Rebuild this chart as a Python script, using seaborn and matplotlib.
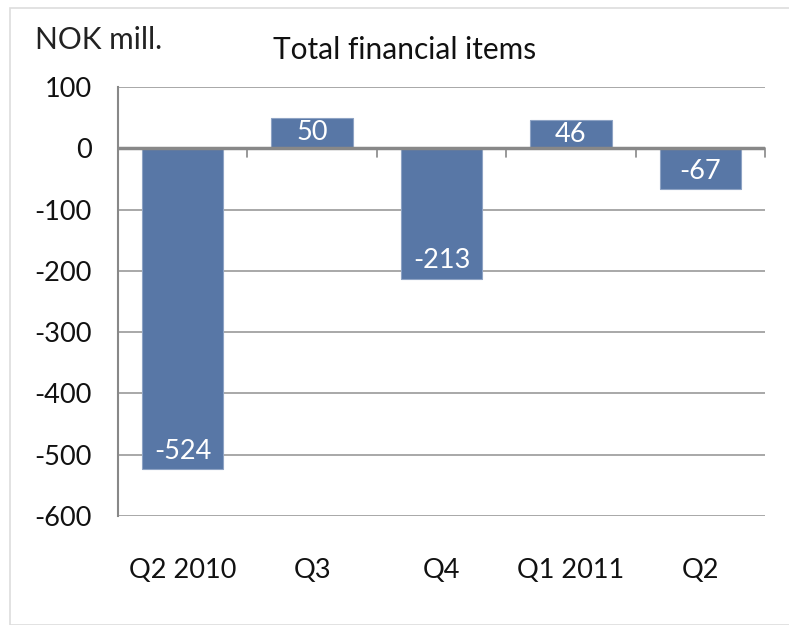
import matplotlib
matplotlib.use("Agg")
import matplotlib.pyplot as plt
import seaborn as sns
import pandas as pd
import numpy as np
from matplotlib.patches import Rectangle

categories = ["Q2 2010", "Q3", "Q4", "Q1 2011", "Q2"]
values = [-524, 50, -213, 46, -67]
yticks = [100, 0, -100, -200, -300, -400, -500, -600]

sns.set_theme(style="white")
plt.rcParams['font.family'] = ['Lato', 'DejaVu Sans']

df = pd.DataFrame({"quarter": categories, "value": values})

fig = plt.figure(figsize=(7.89, 6.25), dpi=100)
ax = fig.add_axes([118/789, 1-516/625, (765-118)/789, (516-87)/625])

sns.barplot(data=df, x="quarter", y="value", color="#5877A6", saturation=1,
            width=0.63, ax=ax, zorder=3, edgecolor="#8EA3C4", linewidth=0.8)

ax.set_ylim(-600, 100)
ax.set_xlim(-0.5, len(categories) - 0.5)
ax.set_yticks(yticks)
ax.set_yticklabels([str(t) for t in yticks], fontsize=19.5, color="#111111")
ax.set_xticks(range(len(categories)))
ax.set_xticklabels(categories, fontsize=19.5, color="#111111")
ax.tick_params(axis="x", length=0, pad=30)
ax.tick_params(axis="y", length=6, width=1.2, color="#888888", direction="out", pad=13)
ax.set_xlabel("")
ax.set_ylabel("")

ax.yaxis.grid(True, color="#999999", linewidth=1.2, zorder=0)
for s in ["top", "right", "bottom"]:
    ax.spines[s].set_visible(False)
ax.spines["left"].set_color("#888888")
ax.spines["left"].set_linewidth(1.5)

# zero line
ax.axhline(0, color="#888888", linewidth=2.5, zorder=4)
# category boundary ticks below zero line
for b in np.arange(0.5, len(categories), 1.0):
    ax.plot([b, b], [0, -14], color="#888888", linewidth=1.2, zorder=4, clip_on=False)

for cont in ax.containers:
    pos_labels = [str(v) if v > 0 else "" for v in values]
    neg_labels = [str(v) if v < 0 else "" for v in values]
    ax.bar_label(cont, labels=pos_labels, label_type="center",
                 color="white", fontsize=19.5)
    ax.bar_label(cont, labels=neg_labels, label_type="edge", padding=-22,
                 color="white", fontsize=19.5)

fig.text(35/789, 1-40/625, "NOK mill.", fontsize=21.5, color="#222222", va="center", ha="left")
fig.text(405/789, 1-50/625, "Total financial items", fontsize=21.5, color="#111111",
         va="center", ha="center")

border = Rectangle((10/789, 0.0), 1, 1-8/625, transform=fig.transFigure,
                   fill=False, edgecolor="#DDDDDD", linewidth=1.2)
fig.patches.append(border)

fig.savefig("out.png", dpi=100)
